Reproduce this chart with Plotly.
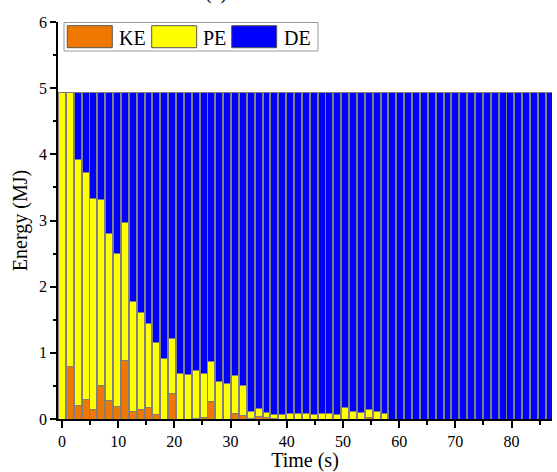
import plotly.graph_objects as go

time_s = [0, 1.4, 2.8, 4.2, 5.6, 7.0, 8.4, 9.8, 11.2, 12.6, 14.0, 15.4, 16.8, 18.2, 19.6,
          21.0, 22.4, 23.8, 25.2, 26.6, 28.0, 29.4, 30.8, 32.2, 33.6, 35.0, 36.4, 37.8,
          39.2, 40.6, 42.0, 43.4, 44.8, 46.2, 47.6, 49.0, 50.4, 51.8, 53.2, 54.6, 56.0,
          57.4, 58.8, 60.2, 61.6, 63.0, 64.4, 65.8, 67.2, 68.6, 70.0, 71.4, 72.8, 74.2,
          75.6, 77.0, 78.4, 79.8, 81.2, 82.6, 84.0, 85.4, 86.8]

ke = [0, 0.80, 0.21, 0.30, 0.15, 0.50, 0.28, 0.19, 0.88, 0.12, 0.15, 0.17, 0.07, 0, 0.38,
      0, 0, 0.01, 0.03, 0.26, 0, 0, 0.08, 0.05, 0.01, 0.04, 0.03, 0.01, 0, 0,
      0, 0, 0, 0, 0, 0, 0, 0, 0, 0.03, 0, 0,
      0, 0, 0, 0, 0, 0, 0, 0, 0, 0, 0, 0, 0, 0, 0, 0, 0, 0, 0, 0, 0]

pe = [4.94, 4.14, 3.71, 3.42, 3.18, 2.81, 2.53, 2.31, 2.09, 1.66, 1.46, 1.28, 1.08, 0.91, 0.84,
      0.69, 0.68, 0.72, 0.66, 0.61, 0.56, 0.54, 0.57, 0.45, 0.11, 0.12, 0.07, 0.06, 0.07, 0.085,
      0.08, 0.09, 0.075, 0.08, 0.08, 0.075, 0.175, 0.115, 0.10, 0.11, 0.11, 0.085,
      0, 0, 0, 0, 0, 0, 0, 0, 0, 0, 0, 0, 0, 0, 0, 0, 0, 0, 0, 0, 0]

de = [0, 0, 1.02, 1.22, 1.61, 1.63, 2.13, 2.44, 1.97, 3.16, 3.33, 3.49, 3.79, 4.03, 3.72,
      4.25, 4.26, 4.21, 4.25, 4.07, 4.38, 4.40, 4.29, 4.44, 4.82, 4.78, 4.84, 4.87, 4.87, 4.855,
      4.86, 4.85, 4.865, 4.86, 4.86, 4.865, 4.765, 4.825, 4.84, 4.80, 4.83, 4.855,
      4.94, 4.94, 4.94, 4.94, 4.94, 4.94, 4.94, 4.94, 4.94, 4.94, 4.94, 4.94, 4.94, 4.94,
      4.94, 4.94, 4.94, 4.94, 4.94, 4.94, 4.94]

series_names = ["KE", "PE", "DE"]
series_colors = ["#EF7800", "#FFFF00", "#0000FF"]
x_ticks = [0, 10, 20, 30, 40, 50, 60, 70, 80]
y_ticks = [0, 1, 2, 3, 4, 5, 6]

FONT = "Liberation Serif, Times New Roman, serif"
W, H = 557, 472
ML, MR, MT, MB = 58, 5, 22, 53
PW, PH = W - ML - MR, H - MT - MB


def px(xp):
    return (xp - ML) / PW


def py(yp):
    return (H - MB - yp) / PH


def nz(vals):
    return [v if v != 0 else None for v in vals]


fig = go.Figure()
for name, vals, col in zip(series_names, [ke, pe, de], series_colors):
    fig.add_trace(go.Bar(
        x=time_s, y=nz(vals), name=name, showlegend=False,
        marker=dict(color=col, line=dict(color="#808080", width=1)),
    ))

# custom legend (large swatches)
shapes = [dict(type="rect", xref="paper", yref="paper",
               x0=px(64), x1=px(318), y0=py(51), y1=py(22.5),
               line=dict(color="#9a9a9a", width=1), fillcolor="white", layer="above")]
annotations = []
sw_x = [67.3, 151.7, 231.7]
tx_x = [117, 200.5, 282]
for name, col, sx, tx in zip(series_names, series_colors, sw_x, tx_x):
    shapes.append(dict(type="rect", xref="paper", yref="paper",
                       x0=px(sx), x1=px(sx + 45), y0=py(47.7), y1=py(25.7),
                       line=dict(color="#555555", width=1), fillcolor=col, layer="above"))
    annotations.append(dict(text=name, xref="paper", yref="paper", x=px(tx), y=py(37.5),
                            xanchor="left", yanchor="middle", showarrow=False,
                            font=dict(family=FONT, size=20, color="black")))

annotations.append(dict(text="(a)", xref="paper", yref="paper", x=px(216), y=py(6),
                        xanchor="center", yanchor="bottom", showarrow=False,
                        font=dict(family=FONT, size=20, color="black")))

fig.update_layout(
    width=W, height=H,
    margin=dict(l=ML, r=MR, t=MT, b=MB, pad=0),
    barmode="stack", bargap=0.12,
    plot_bgcolor="white", paper_bgcolor="white",
    font=dict(family=FONT, size=16, color="black"),
    shapes=shapes, annotations=annotations,
    xaxis=dict(
        range=[-0.7, 87.2], tickmode="array", tickvals=x_ticks,
        ticktext=[str(v) for v in x_ticks],
        showline=True, linecolor="black", linewidth=1.5, mirror=False,
        ticks="outside", ticklen=7, tickwidth=1.5, tickcolor="black",
        minor=dict(ticks="outside", ticklen=4, dtick=5, tick0=0, tickcolor="black", tickwidth=1.5),
        showgrid=False, zeroline=False,
        tickfont=dict(family=FONT, size=16),
        title=dict(text="Time (s)", font=dict(family=FONT, size=20), standoff=1),
        automargin=False,
    ),
    yaxis=dict(
        range=[0, 6], tickmode="array", tickvals=y_ticks,
        ticktext=[str(v) for v in y_ticks],
        showline=True, linecolor="black", linewidth=1.5,
        ticks="outside", ticklen=6, tickwidth=1.5, tickcolor="black",
        minor=dict(ticks="outside", ticklen=3, dtick=0.5, tick0=0, tickcolor="black", tickwidth=1.5),
        showgrid=False, zeroline=False,
        tickfont=dict(family=FONT, size=16),
        title=dict(text="Energy (MJ)", font=dict(family=FONT, size=20), standoff=6),
        automargin=False,
    ),
)

fig.write_html("out.html", config={"displayModeBar": False},
               post_script="document.body.style.margin='0';document.body.style.overflow='hidden';")
